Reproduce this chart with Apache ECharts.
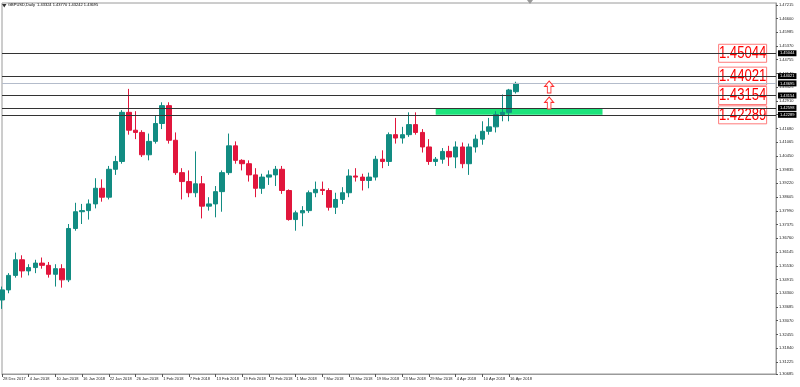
<!DOCTYPE html>
<html><head><meta charset="utf-8">
<script src="https://cdn.jsdelivr.net/npm/echarts@6/dist/echarts.min.js"></script>
<style>html,body{margin:0;padding:0;background:#fff}#c{width:800px;height:387px}</style>
</head><body><div id="c"></div>
<script>
const titleText = 'GBPUSD,Daily  1.43324 1.43770 1.43242 1.43695';
const dates = ['28 Dec 2017','29 Dec 2017','2 Jan 2018','3 Jan 2018','4 Jan 2018','5 Jan 2018','8 Jan 2018','9 Jan 2018','10 Jan 2018','11 Jan 2018',
'12 Jan 2018','15 Jan 2018','16 Jan 2018','17 Jan 2018','18 Jan 2018','19 Jan 2018','22 Jan 2018','23 Jan 2018','24 Jan 2018','25 Jan 2018',
'26 Jan 2018','29 Jan 2018','30 Jan 2018','31 Jan 2018','1 Feb 2018','2 Feb 2018','5 Feb 2018','6 Feb 2018','7 Feb 2018','8 Feb 2018',
'9 Feb 2018','12 Feb 2018','13 Feb 2018','14 Feb 2018','15 Feb 2018','16 Feb 2018','19 Feb 2018','20 Feb 2018','21 Feb 2018','22 Feb 2018',
'23 Feb 2018','26 Feb 2018','27 Feb 2018','28 Feb 2018','1 Mar 2018','2 Mar 2018','5 Mar 2018','6 Mar 2018','7 Mar 2018','8 Mar 2018',
'9 Mar 2018','12 Mar 2018','13 Mar 2018','14 Mar 2018','15 Mar 2018','16 Mar 2018','19 Mar 2018','20 Mar 2018','21 Mar 2018','22 Mar 2018',
'23 Mar 2018','26 Mar 2018','27 Mar 2018','28 Mar 2018','29 Mar 2018','30 Mar 2018','2 Apr 2018','3 Apr 2018','4 Apr 2018','5 Apr 2018',
'6 Apr 2018','9 Apr 2018','10 Apr 2018','11 Apr 2018','12 Apr 2018','13 Apr 2018','16 Apr 2018','17 Apr 2018'];
const opens = [1.3400,1.3445,1.3510,1.3580,1.3530,1.3545,1.3565,1.3555,1.3515,1.3540,
1.3490,1.3720,1.3795,1.3800,1.3830,1.3900,1.3860,1.3985,1.4020,1.4240,
1.4160,1.4150,1.4050,1.4110,1.4190,1.4270,1.4115,1.3970,1.3930,1.3880,
1.3920,1.3820,1.3830,1.3885,1.3970,1.4090,1.4025,1.4010,1.3960,1.3900,
1.3950,1.3960,1.3985,1.3890,1.3760,1.3790,1.3800,1.3880,1.3895,1.3890,
1.3815,1.3850,1.3880,1.3955,1.3950,1.3935,1.3950,1.4030,1.4020,1.4140,
1.4125,1.4140,1.4185,1.4150,1.4085,1.4020,1.4030,1.4065,1.4040,1.4085,
1.4010,1.4085,1.4120,1.4155,1.4175,1.4230,1.4240,1.43324];
const closes = [1.3445,1.3510,1.3580,1.3530,1.3545,1.3565,1.3555,1.3515,1.3540,1.3490,
1.3720,1.3795,1.3800,1.3830,1.3900,1.3860,1.3985,1.4020,1.4240,1.4160,
1.4150,1.4050,1.4110,1.4190,1.4270,1.4115,1.3970,1.3930,1.3880,1.3920,
1.3820,1.3830,1.3885,1.3970,1.4090,1.4025,1.4010,1.3960,1.3900,1.3950,
1.3960,1.3985,1.3890,1.3760,1.3790,1.3800,1.3880,1.3895,1.3890,1.3815,
1.3850,1.3880,1.3955,1.3950,1.3935,1.3950,1.4030,1.4020,1.4140,1.4125,
1.4140,1.4185,1.4150,1.4085,1.4020,1.4030,1.4065,1.4040,1.4085,1.4010,
1.4085,1.4120,1.4155,1.4175,1.4230,1.4240,1.4340,1.43695];
const highs = [1.3460,1.3520,1.3612,1.3600,1.3560,1.3580,1.3590,1.3570,1.3560,1.3560,
1.3740,1.3835,1.3830,1.3850,1.3945,1.3940,1.4000,1.4045,1.4250,1.4345,
1.4245,1.4160,1.4145,1.4225,1.4285,1.4285,1.4150,1.3990,1.3980,1.4065,
1.3955,1.3860,1.3910,1.3980,1.4145,1.4110,1.4030,1.4025,1.3990,1.3965,
1.3980,1.4000,1.4000,1.3895,1.3800,1.3820,1.3890,1.3930,1.3930,1.3900,
1.3880,1.3905,1.3985,1.3990,1.3965,1.3970,1.4045,1.4070,1.4150,1.4215,
1.4175,1.4240,1.4240,1.4165,1.4120,1.4040,1.4080,1.4090,1.4110,1.4105,
1.4100,1.4140,1.4200,1.4215,1.4245,1.4320,1.4345,1.43770];
const lows = [1.3360,1.3430,1.3500,1.3500,1.3510,1.3520,1.3540,1.3500,1.3460,1.3455,
1.3480,1.3710,1.3740,1.3760,1.3810,1.3840,1.3850,1.3960,1.4010,1.4140,
1.4120,1.4040,1.4025,1.4100,1.4165,1.4100,1.3960,1.3850,1.3860,1.3860,
1.3765,1.3800,1.3770,1.3795,1.3960,1.4010,1.3980,1.3930,1.3860,1.3875,
1.3915,1.3910,1.3875,1.3755,1.3710,1.3730,1.3790,1.3860,1.3870,1.3800,
1.3785,1.3830,1.3860,1.3930,1.3890,1.3900,1.3935,1.3990,1.4000,1.4100,
1.4100,1.4130,1.4140,1.4060,1.4005,1.4000,1.4010,1.4000,1.3990,1.3990,
1.3960,1.4060,1.4095,1.4140,1.4150,1.4200,1.4200,1.43242];
const futureSlots = 39;
const yTicks = [1.47215,1.46600,1.45985,1.45370,1.44755,1.44140,1.43525,1.42910,1.42295,1.41680,
1.41065,1.40450,1.39835,1.39220,1.38605,1.37990,1.37375,1.36760,1.36145,1.35530,1.34915,1.34300,1.33685,1.33070,1.32455,1.31840,1.31225,1.30685];
const yMin = 1.30685, yMax = 1.47295;
const levels = [1.45044, 1.44021, 1.43154, 1.42289];
const zoneTop = 1.42598;
const bidPrice = 1.43695;
const zoneStartIdx = 65, zoneEndIdx = 90;
const boxIdx = 111;
const arrowIdx = 82;
const arrowPrices = [1.43534, 1.42818];

const UP = '#128c82', DOWN = '#e1163c';
const categories = dates.concat(new Array(futureSlots).fill(''));
const candles = dates.map((d, i) => [opens[i], closes[i], lows[i], highs[i]]);
const fmt = v => v.toFixed(5);

const chart = echarts.init(document.getElementById('c'), null, {renderer: 'canvas'});
const lineLabel = {show: true, position: 'end', distance: 2, formatter: p => fmt(p.value),
  backgroundColor: '#000', color: '#fff', fontSize: 4, padding: [1, 2], fontFamily: 'Liberation Sans'};
chart.setOption({
  animation: false,
  backgroundColor: '#fff',
  title: {text: titleText, left: 8, top: 3, padding: 0, textStyle: {fontSize: 4, fontWeight: 'normal', color: '#000', fontFamily: 'Liberation Sans'}},
  grid: {left: 2, right: 24, top: 3, bottom: 13, show: true, borderColor: '#9a9a9a', borderWidth: 1, containLabel: false},
  xAxis: {type: 'category', data: categories, boundaryGap: false,
    axisLine: {show: true, lineStyle: {color: '#9a9a9a'}},
    axisTick: {show: true, length: 3, interval: (i, v) => i % 4 === 0 && v !== '', lineStyle: {color: '#555'}},
    axisLabel: {show: true, interval: (i, v) => i % 4 === 0 && v !== '', align: 'left', margin: 3, fontSize: 4,
      color: '#222', fontFamily: 'Liberation Sans', padding: [0, 0, 0, 1], hideOverlap: false},
    splitLine: {show: false}},
  yAxis: {type: 'value', position: 'right', min: yMin, max: yMax, scale: true,
    axisLine: {show: true, lineStyle: {color: '#9a9a9a'}},
    axisTick: {show: true, length: 2, customValues: yTicks, lineStyle: {color: '#555'}},
    axisLabel: {show: true, customValues: yTicks, formatter: v => fmt(v), fontSize: 4, margin: 3, color: '#222', fontFamily: 'Liberation Sans'},
    splitLine: {show: false}},
  series: [
    {type: 'line', data: [], z: 1, silent: true,
      markArea: {silent: true, itemStyle: {color: '#1ce37b', opacity: 1},
        data: [[{coord: [zoneStartIdx, levels[3]]}, {coord: [zoneEndIdx, zoneTop]}]]}},
    {type: 'candlestick', data: candles, z: 2, barWidth: 5,
      itemStyle: {color: UP, color0: DOWN, borderColor: UP, borderColor0: DOWN, borderWidth: 1}},
    {type: 'line', data: [], z: 3, silent: true,
      markLine: {silent: true, symbol: 'none', animation: false, precision: 5,
        data: [
          ...levels.map(v => ({yAxis: v, lineStyle: {color: '#333', width: 1, type: 'solid'}, label: lineLabel})),
          {yAxis: zoneTop, lineStyle: {color: '#333', width: 1, type: 'solid'}, label: lineLabel},
          {yAxis: bidPrice, lineStyle: {color: '#b4bccb', width: 1, type: 'solid'}, label: lineLabel}
        ]},
      markPoint: {silent: true, animation: false,
        data: arrowPrices.map(v => ({coord: [arrowIdx, v], value: v,
            symbol: 'path://M4,0 L8,4.5 L5.6,4.5 L5.6,10 L2.4,10 L2.4,4.5 L0,4.5 Z', symbolSize: [9, 12], symbolKeepAspect: false,
            itemStyle: {color: '#fff', borderColor: '#ff3030', borderWidth: 1}, label: {show: false}}))}}
  ]
});

// red-bordered price boxes, placed through the chart's own scales
const boxGraphics = levels.map((v, k) => {
  const [px, py] = chart.convertToPixel({xAxisIndex: 0, yAxisIndex: 0}, [boxIdx, v]);
  return {id: 'box' + k, type: 'group', x: px, y: py, z: 100, children: [
    {type: 'rect', shape: {x: -24, y: -9, width: 48, height: 18}, style: {fill: '#fff', stroke: '#ff7a7a', lineWidth: 1}},
    {type: 'text', x: 0, y: 0.5, scaleX: 0.82, style: {text: fmt(v), fill: '#ff0000', fontSize: 16,
      fontFamily: 'Liberation Sans', align: 'center', verticalAlign: 'middle'}}
  ]};
});
chart.setOption({graphic: [
  {id: 'menuIcon', type: 'polygon', shape: {points: [[2, 4], [6.5, 4], [4.25, 7.5]]}, style: {fill: '#333'}},
  {id: 'shiftMark', type: 'polygon', shape: {points: [[527, 0], [533, 0], [530, 4]]}, style: {fill: '#9a9a9a'}},
  ...boxGraphics
]});
</script></body></html>
